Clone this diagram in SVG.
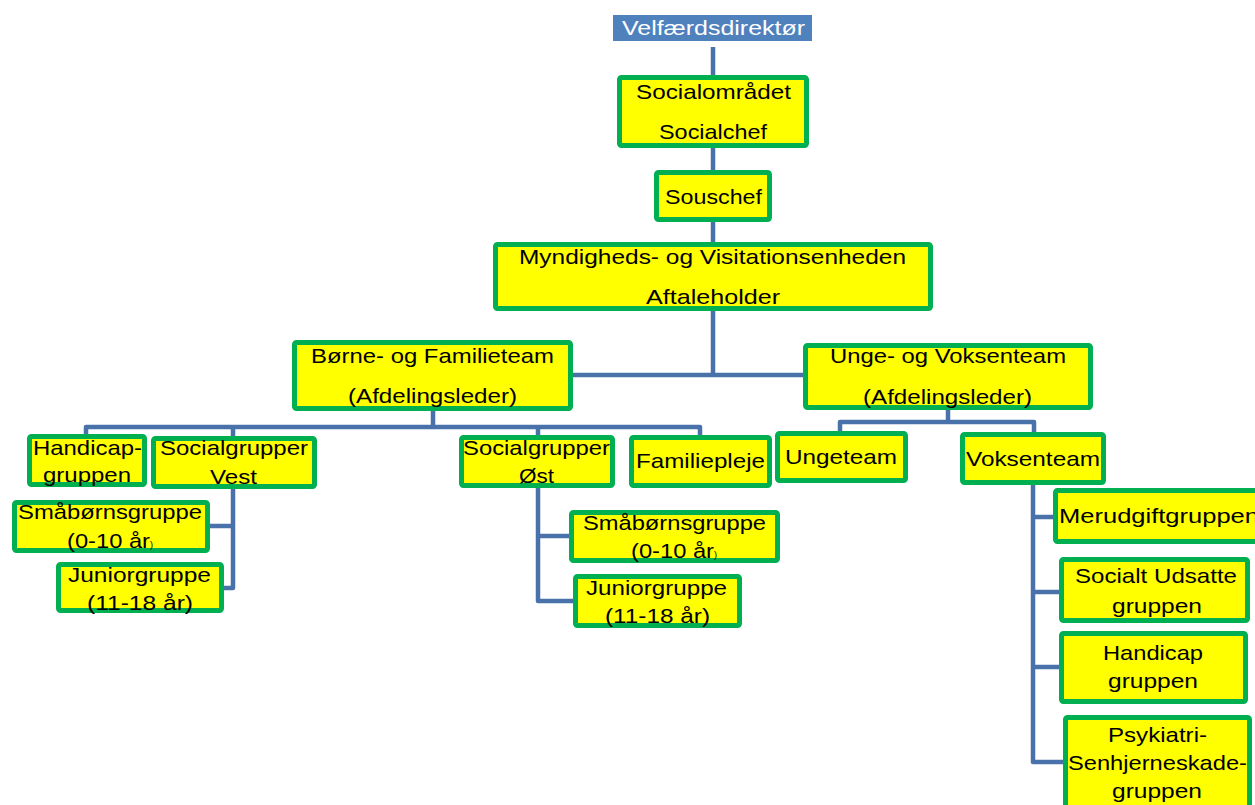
<svg xmlns="http://www.w3.org/2000/svg" width="1255" height="805" viewBox="0 0 1255 805">
<style>
.box{fill:#ffff00;stroke:#00b050;stroke-width:5}
.t{font-family:"Liberation Sans",Arial,sans-serif;font-size:21px;fill:#000;text-anchor:middle}
.ts{text-anchor:start}
.w{fill:#fff}
.c{fill:none;stroke:#4a72aa;stroke-width:4.5;stroke-linejoin:round}
</style>
<rect width="1255" height="805" fill="#fff"/>
<g id="connectors">
<path class="c" d="M713 47V75M713 148V170M713 222V242"/>
<path class="c" d="M713 311V375M572 375H804"/>
<path class="c" d="M433 411V427M86 436V427H700V436M233 427V436M538 427V436"/>
<path class="c" d="M948 410V422M840 431V422H1034V432"/>
<path class="c" d="M233 489V588H223M210 526H233"/>
<path class="c" d="M538 488V601H574M538 536H570"/>
<path class="c" d="M1033 485V762H1064M1033 517H1055M1033 592H1060M1033 667H1060"/>
</g>
<g id="n-velfaerd">
<rect x="613" y="15" width="199" height="26" fill="#4f81bd"/>
<text class="t w" x="713.5" y="35" textLength="183" lengthAdjust="spacingAndGlyphs">Velfærdsdirektør</text>
</g>
<g id="n-socialomraadet">
<rect class="box" x="619.5" y="77.5" width="187" height="68" rx="2"/>
<text class="t" x="713.5" y="99" textLength="155" lengthAdjust="spacingAndGlyphs">Socialområdet</text>
<text class="t" x="713" y="139" textLength="108" lengthAdjust="spacingAndGlyphs">Socialchef</text>
</g>
<g id="n-souschef">
<rect class="box" x="656.5" y="172.5" width="113" height="47" rx="2"/>
<text class="t" x="713.5" y="204" textLength="97" lengthAdjust="spacingAndGlyphs">Souschef</text>
</g>
<g id="n-myndigheds">
<rect class="box" x="495.5" y="244.5" width="435" height="64" rx="2"/>
<text class="t" x="712.5" y="264" textLength="387" lengthAdjust="spacingAndGlyphs">Myndigheds- og Visitationsenheden</text>
<text class="t" x="713" y="304" textLength="134" lengthAdjust="spacingAndGlyphs">Aftaleholder</text>
</g>
<g id="n-boerne">
<rect class="box" x="294.5" y="342.5" width="276" height="66" rx="2"/>
<text class="t" x="432.5" y="363" textLength="243" lengthAdjust="spacingAndGlyphs">Børne- og Familieteam</text>
<text class="t" x="432.5" y="403" textLength="169" lengthAdjust="spacingAndGlyphs">(Afdelingsleder)</text>
</g>
<g id="n-unge">
<rect class="box" x="805.5" y="345.5" width="285" height="62" rx="2"/>
<text class="t" x="948" y="363" textLength="236" lengthAdjust="spacingAndGlyphs">Unge- og Voksenteam</text>
<text class="t" x="947.5" y="404" textLength="169" lengthAdjust="spacingAndGlyphs">(Afdelingsleder)</text>
</g>
<g id="n-handicap-b">
<rect class="box" x="29.5" y="436.5" width="115" height="48" rx="2"/>
<text class="t" x="87.5" y="455" textLength="109" lengthAdjust="spacingAndGlyphs">Handicap-</text>
<text class="t" x="87" y="482" textLength="88" lengthAdjust="spacingAndGlyphs">gruppen</text>
</g>
<g id="n-vest">
<rect class="box" x="153.5" y="438.5" width="161" height="48" rx="2"/>
<text class="t" x="234" y="455" textLength="148" lengthAdjust="spacingAndGlyphs">Socialgrupper</text>
<text class="t" x="233.5" y="484" textLength="47" lengthAdjust="spacingAndGlyphs">Vest</text>
</g>
<g id="n-oest">
<rect class="box" x="461.5" y="437.5" width="151" height="48" rx="2"/>
<text class="t" x="536.5" y="455" textLength="147" lengthAdjust="spacingAndGlyphs">Socialgrupper</text>
<text class="t" x="536.5" y="483" textLength="35" lengthAdjust="spacingAndGlyphs">Øst</text>
</g>
<g id="n-familiepleje">
<rect class="box" x="631.5" y="437.5" width="138" height="48" rx="2"/>
<text class="t" x="700.5" y="468" textLength="129" lengthAdjust="spacingAndGlyphs">Familiepleje</text>
</g>
<g id="n-ungeteam">
<rect class="box" x="777.5" y="433.5" width="128" height="47" rx="2"/>
<text class="t" x="841" y="464" textLength="112" lengthAdjust="spacingAndGlyphs">Ungeteam</text>
</g>
<g id="n-voksenteam">
<rect class="box" x="962.5" y="434.5" width="141" height="48" rx="2"/>
<text class="t" x="1033" y="466" textLength="134" lengthAdjust="spacingAndGlyphs">Voksenteam</text>
</g>
<g id="n-smaaboern-v">
<rect class="box" x="14.5" y="502.5" width="193" height="48" rx="2"/>
<text class="t" x="110" y="519" textLength="184" lengthAdjust="spacingAndGlyphs">Småbørnsgruppe</text>
<text class="t ts" x="67" y="548" textLength="83" lengthAdjust="spacingAndGlyphs">(0-10 år</text>
<text class="t ts" x="150" y="548" style="font-size:9px">)</text>
</g>
<g id="n-junior-v">
<rect class="box" x="58.5" y="564.5" width="163" height="46" rx="2"/>
<text class="t" x="139.5" y="582" textLength="143" lengthAdjust="spacingAndGlyphs">Juniorgruppe</text>
<text class="t" x="140" y="610" textLength="106" lengthAdjust="spacingAndGlyphs">(11-18 år)</text>
</g>
<g id="n-smaaboern-o">
<rect class="box" x="571.5" y="512.5" width="206" height="48" rx="2"/>
<text class="t" x="674.5" y="530" textLength="183" lengthAdjust="spacingAndGlyphs">Småbørnsgruppe</text>
<text class="t ts" x="631" y="558" textLength="83" lengthAdjust="spacingAndGlyphs">(0-10 år</text>
<text class="t ts" x="714" y="558" style="font-size:9px">)</text>
</g>
<g id="n-junior-o">
<rect class="box" x="575.5" y="576.5" width="164" height="49" rx="2"/>
<text class="t" x="656.5" y="595" textLength="141" lengthAdjust="spacingAndGlyphs">Juniorgruppe</text>
<text class="t" x="657.5" y="623" textLength="105" lengthAdjust="spacingAndGlyphs">(11-18 år)</text>
</g>
<g id="n-merudgift">
<rect class="box" x="1055.5" y="490.5" width="210" height="51" rx="2"/>
<text class="t ts" x="1059" y="523" textLength="200" lengthAdjust="spacingAndGlyphs">Merudgiftgruppen</text>
</g>
<g id="n-socialt-udsatte">
<rect class="box" x="1061.5" y="559.5" width="186" height="61" rx="2"/>
<text class="t" x="1156" y="583" textLength="162" lengthAdjust="spacingAndGlyphs">Socialt Udsatte</text>
<text class="t" x="1157" y="613" textLength="90" lengthAdjust="spacingAndGlyphs">gruppen</text>
</g>
<g id="n-handicap-v">
<rect class="box" x="1061.5" y="633.5" width="184" height="68" rx="2"/>
<text class="t" x="1153" y="660" textLength="100" lengthAdjust="spacingAndGlyphs">Handicap</text>
<text class="t" x="1153" y="688" textLength="90" lengthAdjust="spacingAndGlyphs">gruppen</text>
</g>
<g id="n-psykiatri">
<rect class="box" x="1065.5" y="717.5" width="184" height="100" rx="2"/>
<text class="t" x="1157.5" y="742" textLength="99" lengthAdjust="spacingAndGlyphs">Psykiatri-</text>
<text class="t" x="1157.5" y="770" textLength="179" lengthAdjust="spacingAndGlyphs">Senhjerneskade-</text>
<text class="t" x="1157" y="798" textLength="90" lengthAdjust="spacingAndGlyphs">gruppen</text>
</g>
</svg>
